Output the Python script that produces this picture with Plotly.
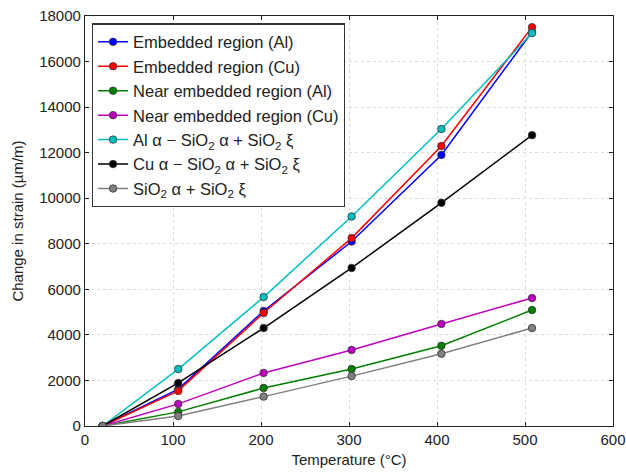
import plotly.graph_objects as go

temperature = [20, 106, 203, 303, 405, 508]

embedded_al = [0, 1620, 5050, 8100, 11900, 17300]
embedded_cu = [0, 1540, 4960, 8250, 12290, 17510]
near_al = [0, 620, 1670, 2500, 3520, 5090]
near_cu = [0, 970, 2330, 3340, 4480, 5620]
al_sio2 = [0, 2500, 5660, 9200, 13040, 17250]
cu_sio2 = [0, 1890, 4300, 6940, 9800, 12770]
sio2 = [0, 440, 1290, 2190, 3170, 4300]

series_names = [
    "Embedded region (Al)",
    "Embedded region (Cu)",
    "Near embedded region (Al)",
    "Near embedded region (Cu)",
    "Al α − SiO<sub>2</sub> α + SiO<sub>2</sub> ξ",
    "Cu α − SiO<sub>2</sub> α + SiO<sub>2</sub> ξ",
    "SiO<sub>2</sub> α + SiO<sub>2</sub> ξ",
]
series_values = [embedded_al, embedded_cu, near_al, near_cu, al_sio2, cu_sio2, sio2]
colors = ["#0000ff", "#ff0000", "#007f00", "#bf00bf", "#00bfbf", "#000000", "#808080"]

x_ticks = [0, 100, 200, 300, 400, 500, 600]
x_tick_labels = ["0", "100", "200", "300", "400", "500", "600"]
y_ticks = [0, 2000, 4000, 6000, 8000, 10000, 12000, 14000, 16000, 18000]
y_tick_labels = ["0", "2000", "4000", "6000", "8000", "10000", "12000", "14000", "16000", "18000"]

fig = go.Figure()
for name, vals, col in zip(series_names, series_values, colors):
    fig.add_trace(go.Scatter(
        x=temperature, y=vals, name=name, mode="lines+markers",
        line=dict(color=col, width=1.5),
        marker=dict(color=col, size=7.5, line=dict(color="#333333", width=0.8)),
    ))

font_family = "Liberation Sans, Arial, sans-serif"
axis_common = dict(
    showline=True, linecolor="#222222", linewidth=1.2, mirror="ticks",
    ticks="inside", ticklen=4, tickcolor="#222222",
    showgrid=True, gridcolor="#dcdcdc", griddash="dot", gridwidth=1,
    zeroline=False, automargin=False, ticklabeloverflow="allow",
    tickfont=dict(size=15, color="#222222", family=font_family),
)

fig.update_layout(
    width=626, height=473,
    margin=dict(l=85, r=13, t=16, b=47),
    paper_bgcolor="white", plot_bgcolor="white",
    font=dict(family=font_family, size=15, color="#222222"),
    xaxis=dict(range=[0, 600], tickvals=x_ticks, ticktext=x_tick_labels,
               title=dict(text="Temperature (°C)", font=dict(size=15), standoff=7),
               **axis_common),
    yaxis=dict(range=[0, 18000], tickvals=y_ticks, ticktext=y_tick_labels,
               title=dict(text="Change in strain (µm/m)", font=dict(size=15), standoff=11),
               **axis_common),
    legend=dict(x=0.013, y=0.982, xanchor="left", yanchor="top",
                bgcolor="white", bordercolor="#333333", borderwidth=1.2,
                font=dict(size=16.5, color="#222222"), tracegroupgap=0),
    showlegend=True,
)

fig.write_html(
    "out.html",
    config={"displayModeBar": False},
    post_script="document.body.style.margin='0';document.body.style.overflow='hidden';",
)
